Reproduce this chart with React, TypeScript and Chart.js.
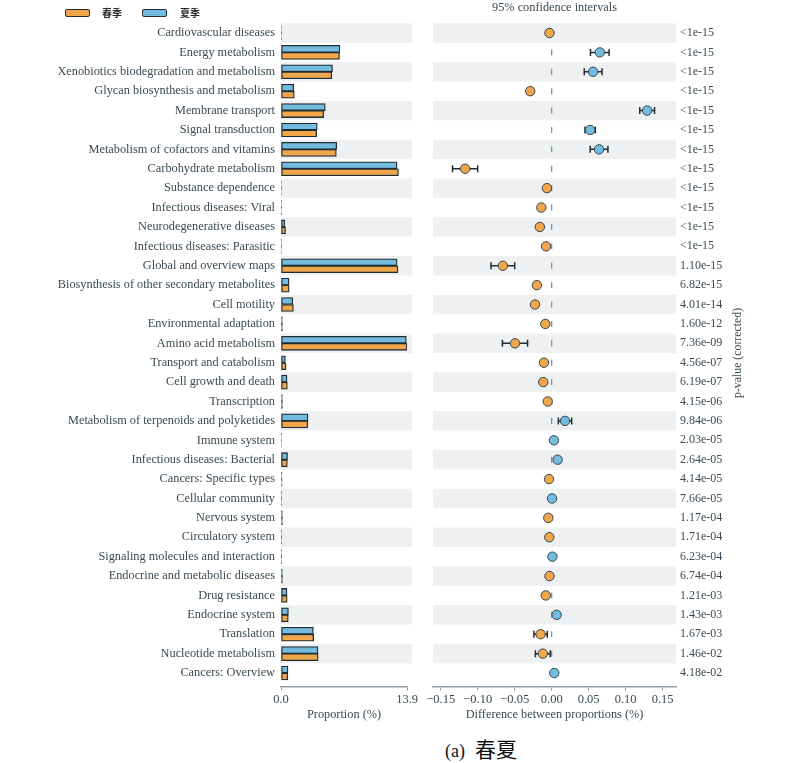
import React, { useEffect, useRef } from 'react';
import { Chart, registerables } from 'chart.js';

Chart.register(...registerables);

const categories = [
  'Cardiovascular diseases',
  'Energy metabolism',
  'Xenobiotics biodegradation and metabolism',
  'Glycan biosynthesis and metabolism',
  'Membrane transport',
  'Signal transduction',
  'Metabolism of cofactors and vitamins',
  'Carbohydrate metabolism',
  'Substance dependence',
  'Infectious diseases: Viral',
  'Neurodegenerative diseases',
  'Infectious diseases: Parasitic',
  'Global and overview maps',
  'Biosynthesis of other secondary metabolites',
  'Cell motility',
  'Environmental adaptation',
  'Amino acid metabolism',
  'Transport and catabolism',
  'Cell growth and death',
  'Transcription',
  'Metabolism of terpenoids and polyketides',
  'Immune system',
  'Infectious diseases: Bacterial',
  'Cancers: Specific types',
  'Cellular community',
  'Nervous system',
  'Circulatory system',
  'Signaling molecules and interaction',
  'Endocrine and metabolic diseases',
  'Drug resistance',
  'Endocrine system',
  'Translation',
  'Nucleotide metabolism',
  'Cancers: Overview',
];

// 春季 (spring) proportions, %
const springValues = [
  0.06, 6.45, 5.6, 1.47, 4.7, 3.93, 6.1, 12.95, 0.06, 0.05, 0.5, 0.06, 12.9, 0.9, 1.37, 0.16, 13.9,
  0.55, 0.7, 0.16, 2.95, 0.05, 0.7, 0.12, 0.03, 0.16, 0.08, 0.02, 0.16, 0.68, 0.8, 3.6, 4.1, 0.75,
];

// 夏季 (summer) proportions, %
const summerValues = [
  0.05, 6.5, 5.68, 1.4, 4.88, 4.0, 6.14, 12.8, 0.05, 0.04, 0.42, 0.05, 12.8, 0.88, 1.3, 0.15, 13.82,
  0.48, 0.66, 0.15, 2.98, 0.05, 0.72, 0.11, 0.03, 0.15, 0.07, 0.02, 0.15, 0.66, 0.82, 3.57, 4.08, 0.77,
];

// difference between proportions, %
const differences = [
  -0.003, 0.065, 0.056, -0.029, 0.129, 0.052, 0.064, -0.117, -0.0064, -0.014, -0.016, -0.0077, -0.066,
  -0.02, -0.0226, -0.0086, -0.0496, -0.0104, -0.0114, -0.0054, 0.018, 0.003, 0.008, -0.0036, 0.0005,
  -0.0046, -0.0032, 0.001, -0.003, -0.008, 0.0067, -0.015, -0.012, 0.0035,
];

// 95% CI half widths
const ciHalfWidths = [
  0.002, 0.0126, 0.012, 0.004, 0.01, 0.007, 0.012, 0.017, 0.002, 0.002, 0.002, 0.002, 0.016, 0.003,
  0.004, 0.002, 0.017, 0.002, 0.002, 0.002, 0.009, 0.002, 0.002, 0.002, 0.002, 0.002, 0.002, 0.002,
  0.002, 0.002, 0.002, 0.009, 0.01, 0.002,
];

const pValues = [
  '<1e-15', '<1e-15', '<1e-15', '<1e-15', '<1e-15', '<1e-15', '<1e-15', '<1e-15', '<1e-15', '<1e-15',
  '<1e-15', '<1e-15', '1.10e-15', '6.82e-15', '4.01e-14', '1.60e-12', '7.36e-09', '4.56e-07',
  '6.19e-07', '4.15e-06', '9.84e-06', '2.03e-05', '2.64e-05', '4.14e-05', '7.66e-05', '1.17e-04',
  '1.71e-04', '6.23e-04', '6.74e-04', '1.21e-03', '1.43e-03', '1.67e-03', '1.46e-02', '4.18e-02',
];

const proportionTicks = [0, 13.9];
const differenceTicks = [-0.15, -0.1, -0.05, 0, 0.05, 0.1, 0.15];

const SERIF = "'Liberation Serif', 'Times New Roman', serif";
const TEXT = '#3a4a54';
const ORANGE = '#f1a64b';
const BLUE = '#73bcdf';
const EDGE = '#1f2c33';
const BAND = '#eef0f1';
const AXIS = '#8ea2ac';
const FS = 12.3;

const Y_MIN = -0.5;
const Y_MAX = 33.7;

function makeBands(extendRight: number) {
  return {
    id: 'rowBands',
    beforeDatasetsDraw(chart: any) {
      const { ctx, chartArea, scales } = chart;
      const y = scales.y;
      ctx.save();
      ctx.fillStyle = BAND;
      categories.forEach((_, i) => {
        if (i % 2 !== 0) return;
        const t = y.getPixelForValue(i - 0.5);
        const b = y.getPixelForValue(i + 0.5);
        ctx.fillRect(chartArea.left, t, chartArea.right + extendRight - chartArea.left, b - t);
      });
      ctx.restore();
    },
  };
}

const rightExtras = {
  id: 'rightExtras',
  beforeDatasetsDraw(chart: any) {
    const { ctx, scales } = chart;
    const x = scales.x;
    const y = scales.y;
    ctx.save();
    // zero dashed line
    ctx.strokeStyle = '#6f8c9a';
    ctx.lineWidth = 1.2;
    const x0 = x.getPixelForValue(0);
    categories.forEach((_, i) => {
      const yc = y.getPixelForValue(i);
      ctx.beginPath();
      ctx.moveTo(x0, yc - 3);
      ctx.lineTo(x0, yc + 3);
      ctx.stroke();
    });
    // error bars
    ctx.strokeStyle = EDGE;
    ctx.lineWidth = 1.5;
    differences.forEach((d, i) => {
      const e = ciHalfWidths[i];
      const xl = x.getPixelForValue(d - e);
      const xr = x.getPixelForValue(d + e);
      const yc = y.getPixelForValue(i);
      ctx.beginPath();
      ctx.moveTo(xl, yc);
      ctx.lineTo(xr, yc);
      ctx.moveTo(xl, yc - 3.5);
      ctx.lineTo(xl, yc + 3.5);
      ctx.moveTo(xr, yc - 3.5);
      ctx.lineTo(xr, yc + 3.5);
      ctx.stroke();
    });
    ctx.restore();
  },
  afterDraw(chart: any) {
    const { ctx, chartArea } = chart;
    ctx.save();
    ctx.translate(chartArea.right + 62, (chartArea.top + chartArea.bottom) / 2 - 2);
    ctx.rotate(-Math.PI / 2);
    ctx.fillStyle = TEXT;
    ctx.font = `11.8px ${SERIF}`;
    ctx.textAlign = 'center';
    ctx.textBaseline = 'middle';
    ctx.fillText('p-value (corrected)', 0, 0);
    ctx.restore();
  },
};

function LeftChart() {
  const ref = useRef<HTMLCanvasElement | null>(null);
  useEffect(() => {
    if (!ref.current) return;
    const chart = new Chart(ref.current, {
      type: 'bar',
      data: {
        datasets: [
          {
            label: '夏季',
            data: summerValues.map((v, i) => ({ x: v, y: i })),
            backgroundColor: BLUE,
            borderColor: EDGE,
            borderWidth: 1.3,
            borderSkipped: false,
            barThickness: 7,
          },
          {
            label: '春季',
            data: springValues.map((v, i) => ({ x: v, y: i })),
            backgroundColor: ORANGE,
            borderColor: EDGE,
            borderWidth: 1.3,
            borderSkipped: false,
            barThickness: 7,
          },
        ],
      },
      options: {
        indexAxis: 'y',
        animation: false,
        responsive: false,
        layout: { padding: { top: 23.3, right: 7, left: 0, bottom: 0 } },
        plugins: { legend: { display: false }, tooltip: { enabled: false } },
        scales: {
          y: {
            type: 'linear',
            reverse: true,
            offset: false,
            min: Y_MIN,
            max: Y_MAX,
            grid: { display: false, drawTicks: false, offset: false },
            border: { display: false },
            afterFit(scale: any) {
              scale.width = 281;
            },
            afterBuildTicks(scale: any) {
              scale.ticks = categories.map((_, i) => ({ value: i }));
            },
            ticks: {
              autoSkip: false,
              padding: 6,
              color: TEXT,
              font: { family: SERIF, size: FS },
              callback: (v: any) => categories[v] ?? '',
            },
          },
          x: {
            type: 'linear',
            min: 0,
            max: 13.9,
            grid: { display: true, drawOnChartArea: false, drawTicks: true, tickLength: 4, color: AXIS },
            border: { display: true, color: AXIS, width: 1.5 },
            afterFit(scale: any) {
              scale.height = 730 - 686.6;
            },
            afterBuildTicks(scale: any) {
              scale.ticks = proportionTicks.map((v) => ({ value: v }));
            },
            ticks: {
              padding: 2,
              color: TEXT,
              font: { family: SERIF, size: 12.5 },
              maxRotation: 0,
              callback: (v: any) => Number(v).toFixed(1),
            },
            title: {
              display: true,
              text: 'Proportion (%)',
              color: TEXT,
              font: { family: SERIF, size: FS },
              padding: { top: 0, bottom: 8 },
            },
          },
        },
      },
      plugins: [makeBands(5)],
    } as any);
    return () => chart.destroy();
  }, []);
  return <canvas ref={ref} width={420} height={730} style={{ position: 'absolute', left: 0, top: 0 }} />;
}

function RightChart() {
  const ref = useRef<HTMLCanvasElement | null>(null);
  useEffect(() => {
    if (!ref.current) return;
    const chart = new Chart(ref.current, {
      type: 'scatter',
      data: {
        datasets: [
          {
            label: 'difference',
            data: differences.map((d, i) => ({ x: d, y: i })),
            pointRadius: 4.7,
            pointBorderWidth: 1,
            pointBorderColor: '#34454e',
            pointBackgroundColor: differences.map((d) => (d < 0 ? ORANGE : BLUE)),
          },
        ],
      },
      options: {
        animation: false,
        responsive: false,
        layout: { padding: { top: 0, right: 0, left: 13, bottom: 0 } },
        plugins: {
          legend: { display: false },
          tooltip: { enabled: false },
          title: {
            display: true,
            fullSize: false,
            text: '95% confidence intervals',
            color: TEXT,
            font: { family: SERIF, size: FS, weight: 'normal' },
            padding: { top: 0, bottom: 23.3 - FS * 1.2 },
          },
        },
        scales: {
          y: {
            type: 'linear',
            position: 'right',
            reverse: true,
            offset: false,
            min: Y_MIN,
            max: Y_MAX,
            grid: { display: false, drawTicks: false, offset: false },
            border: { display: false },
            afterFit(scale: any) {
              scale.width = 123;
            },
            afterBuildTicks(scale: any) {
              scale.ticks = pValues.map((_, i) => ({ value: i }));
            },
            ticks: {
              autoSkip: false,
              padding: 4,
              color: TEXT,
              font: { family: SERIF, size: 12 },
              callback: (v: any) => pValues[v] ?? '',
            },
          },
          x: {
            type: 'linear',
            min: -0.1604,
            max: 0.168,
            grid: { display: true, drawOnChartArea: false, drawTicks: true, tickLength: 4, color: AXIS },
            border: { display: true, color: AXIS, width: 1.5 },
            afterFit(scale: any) {
              scale.height = 730 - 686.6;
            },
            afterBuildTicks(scale: any) {
              scale.ticks = differenceTicks.map((v) => ({ value: v }));
            },
            ticks: {
              padding: 2,
              color: TEXT,
              font: { family: SERIF, size: 12.5 },
              maxRotation: 0,
              autoSkip: false,
              callback: (v: any) => {
                const n = Math.abs(Number(v)) < 1e-9 ? 0 : Number(v);
                return n.toFixed(2).replace('-', '\u2212');
              },
            },
            title: {
              display: true,
              text: 'Difference between proportions (%)',
              color: TEXT,
              font: { family: SERIF, size: FS },
              padding: { top: 0, bottom: 8 },
            },
          },
        },
      },
      plugins: [makeBands(0), rightExtras],
    } as any);
    return () => chart.destroy();
  }, []);
  return <canvas ref={ref} width={379} height={730} style={{ position: 'absolute', left: 420, top: 0 }} />;
}

const legendItems = [
  { label: '春季', color: ORANGE },
  { label: '夏季', color: BLUE },
];

export default function App() {
  return (
    <div style={{ position: 'absolute', left: 0, top: 0, width: 799, height: 763, background: '#fff' }}>
      <LeftChart />
      <RightChart />
      {legendItems.map((it, i) => (
        <div key={it.label}>
          <div
            style={{
              position: 'absolute',
              left: 65 + i * 77,
              top: 9,
              width: 23,
              height: 6,
              background: it.color,
              border: `1.5px solid ${EDGE}`,
              borderRadius: 2,
            }}
          />
          <div
            style={{
              position: 'absolute',
              left: 102 + i * 78,
              top: 5,
              fontFamily: "'Noto Sans CJK SC', sans-serif",
              fontWeight: 700,
              fontSize: 10,
              lineHeight: '15px',
              color: '#2a2a2a',
            }}
          >
            {it.label}
          </div>
        </div>
      ))}
      <div
        style={{
          position: 'absolute',
          left: 445,
          top: 737,
          lineHeight: '22px',
          color: '#111',
          whiteSpace: 'nowrap',
        }}
      >
        <span style={{ fontFamily: SERIF, fontSize: 18 }}>(a)</span>
        <span style={{ fontFamily: "'Noto Sans CJK SC', serif", fontSize: 21, marginLeft: 10 }}>春夏</span>
      </div>
    </div>
  );
}
